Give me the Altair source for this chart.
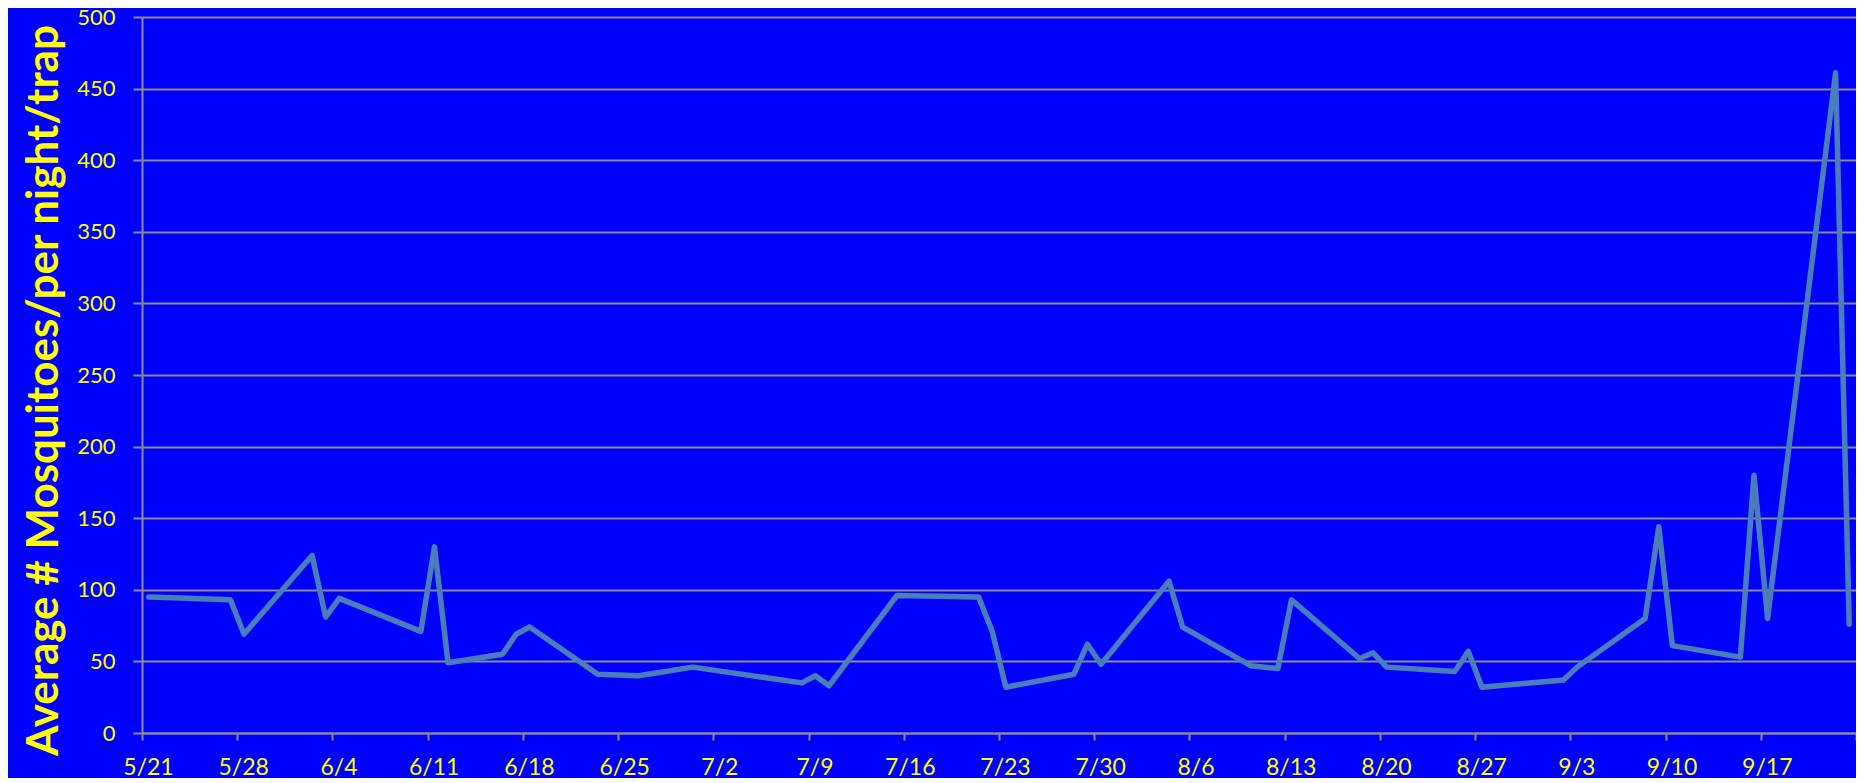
import altair as alt
import pandas as pd
from datetime import date

# Sampling dates (M/D) and average mosquitoes per night per trap
dates = ["5/21", "5/27", "5/28", "6/2", "6/3", "6/4", "6/10", "6/11", "6/12",
         "6/16", "6/17", "6/18", "6/23", "6/26", "6/30", "7/8", "7/9", "7/10",
         "7/15", "7/21", "7/22", "7/23", "7/28", "7/29", "7/30", "8/4", "8/5",
         "8/10", "8/12", "8/13", "8/18", "8/19", "8/20", "8/25", "8/26", "8/27",
         "9/2", "9/3", "9/8", "9/9", "9/10", "9/15", "9/16", "9/17", "9/22", "9/23"]
counts = [95, 93, 69, 124, 81, 94, 71, 130, 49,
          55, 69, 74, 41, 40, 46, 35, 40, 33,
          96, 95, 71, 32, 41, 62, 48, 106, 74,
          47, 45, 93, 52, 56, 46, 43, 57, 32,
          37, 46, 80, 144, 61, 53, 180, 80, 461, 76]

tick_labels = ["5/21", "5/28", "6/4", "6/11", "6/18", "6/25", "7/2", "7/9", "7/16",
               "7/23", "7/30", "8/6", "8/13", "8/20", "8/27", "9/3", "9/10", "9/17"]
y_ticks = [0, 50, 100, 150, 200, 250, 300, 350, 400, 450, 500]

start = date(2013, 5, 21)


def day_offset(s):
    m, d = map(int, s.split("/"))
    return (date(2013, m, d) - start).days + 0.5


df = pd.DataFrame({"date": dates,
                   "day": [day_offset(s) for s in dates],
                   "count": counts})

x_ticks = [7 * i for i in range(len(tick_labels) + 1)]
label_expr = "[" + ",".join(f"'{t}'" for t in tick_labels) + ",''][round(datum.value/7)]"

FONT = "Lato"
YELLOW = "#FFFF00"
GRAY = "#8C8C8C"

chart = alt.Chart(df).mark_line(
    color="#4A7EBB", strokeWidth=5.5, strokeCap="round", strokeJoin="round"
).encode(
    x=alt.X("day:Q",
            scale=alt.Scale(domain=[0, x_ticks[-1]], nice=False, zero=False),
            axis=alt.Axis(values=x_ticks, labelExpr=label_expr, grid=False, title=None,
                          labelFont=FONT, labelFontSize=23, labelColor=YELLOW,
                          labelOffset=6, labelFlush=False, labelOverlap=False,
                          labelPadding=16, tickSize=7, tickColor=GRAY, tickWidth=2,
                          domainColor=GRAY, domainWidth=2)),
    y=alt.Y("count:Q",
            scale=alt.Scale(domain=[0, 500], nice=False),
            axis=alt.Axis(values=y_ticks, title="Average # Mosquitoes/per night/trap",
                          titleFont=FONT, titleFontSize=44, titleFontWeight="bold",
                          titleColor=YELLOW, titleAngle=270, titleAlign="center",
                          titleBaseline="alphabetic", titleX=-85, titleY=373,
                          labelFont=FONT, labelFontSize=22, labelColor=YELLOW,
                          labelPadding=18, tickSize=9, tickColor=GRAY, tickWidth=2,
                          grid=True, gridColor=GRAY, gridWidth=2,
                          domainColor=GRAY, domainWidth=2)),
).properties(
    width=1714, height=716,
    autosize=alt.AutoSizeParams(type="none"),
    padding={"left": 134, "top": 9, "right": 0, "bottom": 45},
    background="#0000FF",
).configure_view(stroke=None)

chart.save("out.html", embed_options={"renderer": "svg", "actions": False})
